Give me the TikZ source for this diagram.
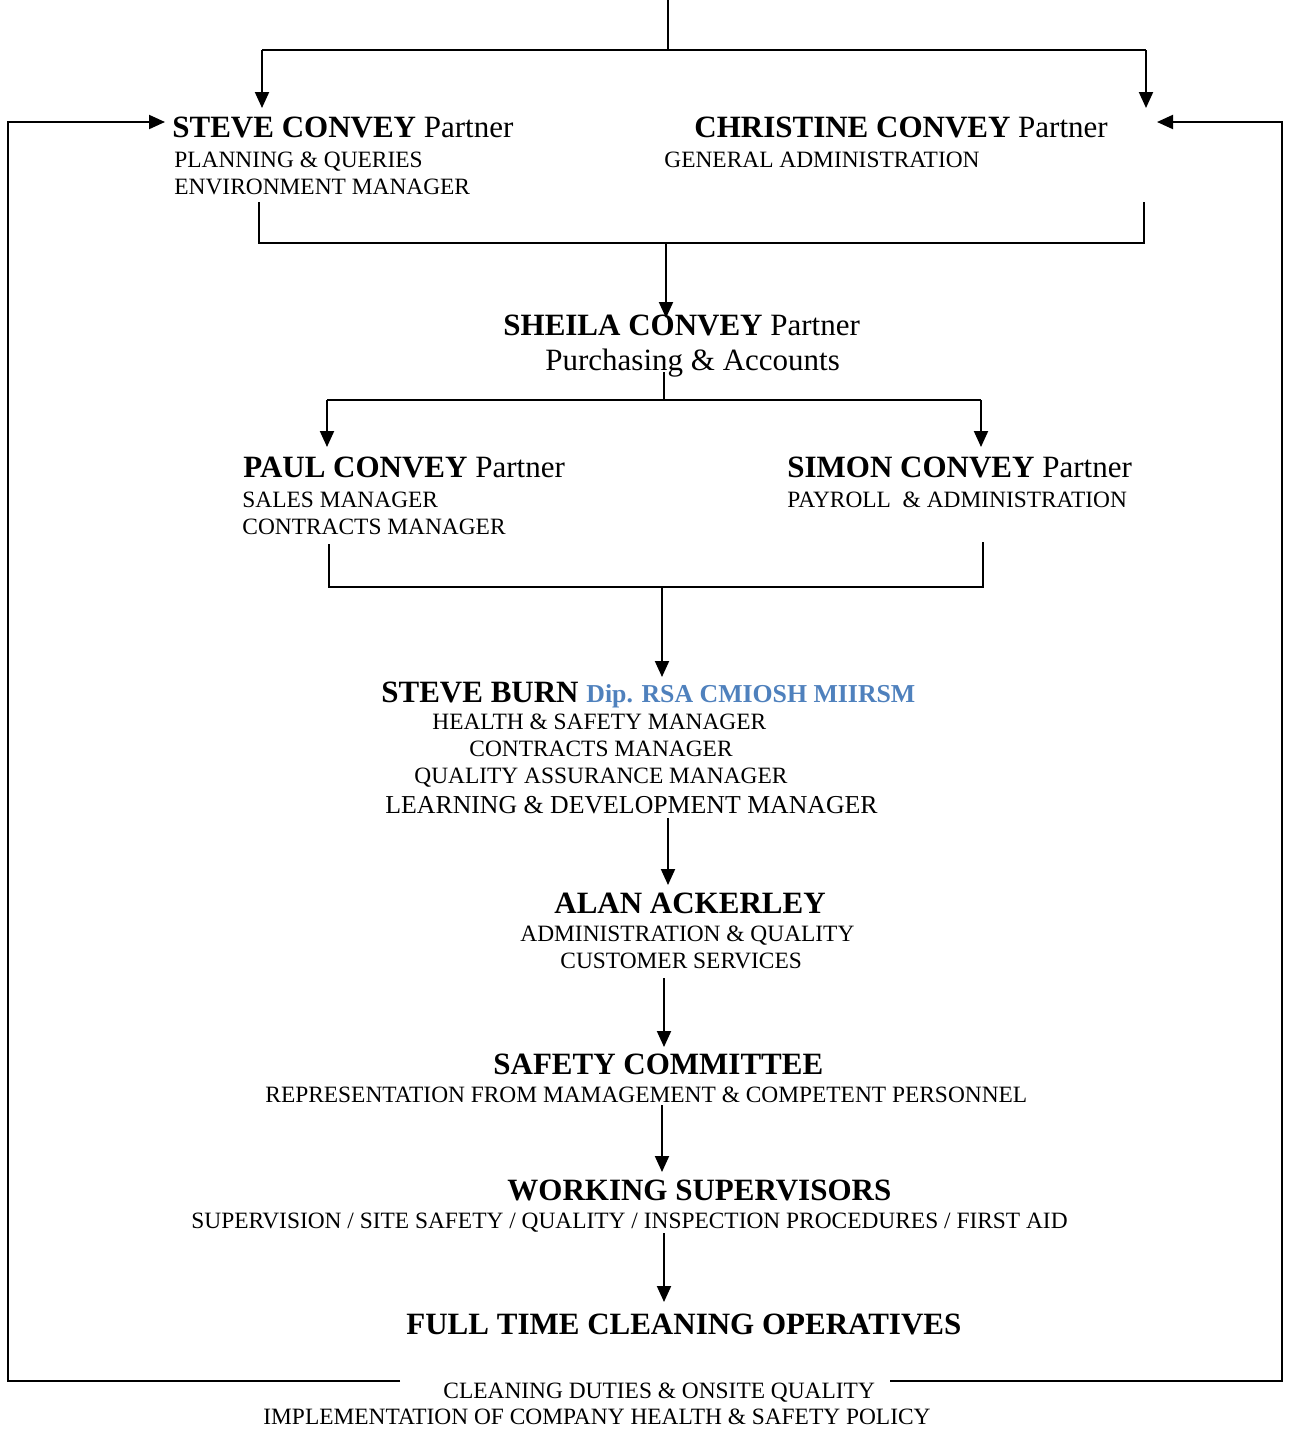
\documentclass[tikz,border=0pt]{standalone}
\usepackage{fontspec}
\setmainfont{Liberation Serif}
\usetikzlibrary{arrows.meta}
\definecolor{dipblue}{RGB}{79,129,189}
\tikzstyle{arrow} = [line width=1pt, -{Triangle[width=7pt,length=8pt]}]
\tikzstyle{link} = [line width=1pt]

\begin{document}
\begin{tikzpicture}[x=0.5pt, y=-0.5pt,
    headtext/.style={inner sep=0, anchor=base west, font=\fontsize{15.5}{18}\selectfont},
    roletext/.style={inner sep=0, anchor=base west, font=\fontsize{11.7}{14}\selectfont},
    bigrole/.style={inner sep=0, anchor=base west, font=\fontsize{12.9}{15}\selectfont},
]
\useasboundingbox (0,0) rectangle (1290,1430);

% Steve and Christine
\node[headtext] (steve) at (172,137) {\textbf{STEVE CONVEY} Partner};
\node[roletext] (steve1) at (174,167) {PLANNING \& QUERIES};
\node[roletext] (steve2) at (174,194) {ENVIRONMENT MANAGER};
\node[headtext] (christine) at (694,137) {\textbf{CHRISTINE CONVEY} Partner};
\node[roletext] (christine1) at (664,167) {GENERAL ADMINISTRATION};

% Sheila
\node[headtext] (sheila) at (503,335) {\textbf{SHEILA CONVEY} Partner};
\node[headtext] (sheila1) at (545,370) {Purchasing \& Accounts};

% Paul and Simon
\node[headtext] (paul) at (243,477) {\textbf{PAUL CONVEY} Partner};
\node[roletext] (paul1) at (242,507) {SALES MANAGER};
\node[roletext] (paul2) at (242,534) {CONTRACTS MANAGER};
\node[headtext] (simon) at (787,477) {\textbf{SIMON CONVEY} Partner};
\node[roletext] (simon1) at (787,507) {PAYROLL\ \ \& ADMINISTRATION};

% Steve Burn
\node[headtext] (burn) at (381,702) {\textbf{STEVE BURN}};
\node[bigrole, text=dipblue] (burndip) at (586,702) {\textbf{Dip. RSA CMIOSH MIIRSM}};
\node[roletext] (burn1) at (432,729) {HEALTH \& SAFETY MANAGER};
\node[roletext] (burn2) at (469,756) {CONTRACTS MANAGER};
\node[roletext] (burn3) at (414,783) {QUALITY ASSURANCE MANAGER};
\node[bigrole] (burn4) at (385,813) {LEARNING \& DEVELOPMENT MANAGER};

% Alan Ackerley
\node[headtext] (alan) at (554,913) {\textbf{ALAN ACKERLEY}};
\node[roletext] (alan1) at (520,941) {ADMINISTRATION \& QUALITY};
\node[roletext] (alan2) at (560,968) {CUSTOMER SERVICES};

% Safety committee
\node[headtext] (committee) at (493,1074) {\textbf{SAFETY COMMITTEE}};
\node[roletext] (committee1) at (265,1102) {REPRESENTATION FROM MAMAGEMENT \& COMPETENT PERSONNEL};

% Supervisors
\node[headtext] (super) at (507,1200) {\textbf{WORKING SUPERVISORS}};
\node[roletext] (super1) at (191,1228) {SUPERVISION / SITE SAFETY / QUALITY / INSPECTION PROCEDURES / FIRST AID};

% Operatives
\node[headtext] (oper) at (406,1334) {\textbf{FULL TIME CLEANING OPERATIVES}};
\node[roletext] (oper1) at (443,1398) {CLEANING DUTIES \& ONSITE QUALITY};
\node[roletext] (oper2) at (263,1424) {IMPLEMENTATION OF COMPANY HEALTH \& SAFETY POLICY};

% Junction points
\coordinate (feed) at (668,0);
\coordinate (feedbar) at (668,50);
\coordinate (toleft) at (262,50);
\coordinate (toright) at (1146,50);
\coordinate (steveend) at (262,108);
\coordinate (christineend) at (1146,108);
\coordinate (brackAl) at (259,202);
\coordinate (brackAr) at (1144,202);
\coordinate (brackAmid) at (666,243);
\coordinate (sheilaend) at (666,318);
\coordinate (sheilaout) at (664,372);
\coordinate (sheilabar) at (664,400);
\coordinate (paulend) at (327,447);
\coordinate (simonend) at (981,447);
\coordinate (brackBl) at (329,544);
\coordinate (brackBr) at (983,542);
\coordinate (brackBmid) at (662,590);
\coordinate (burnend) at (662,677);
\coordinate (loopL) at (400,1381);
\coordinate (loopR) at (890,1381);
\coordinate (loopLend) at (165,122);
\coordinate (loopRend) at (1157,122);

% Top feed
\draw[link] (feed) -- (feedbar);
\draw[link] (toleft) -- (toright);
\draw[arrow] (toleft) -- (steveend);
\draw[arrow] (toright) -- (christineend);

% Partners to Sheila
\draw[link] (brackAl) |- (brackAmid) -| (brackAr);
\draw[arrow] (brackAmid) -- (sheilaend);

% Sheila to Paul and Simon
\draw[link] (sheilaout) -- (sheilabar);
\draw[link] (paulend |- sheilabar) -- (simonend |- sheilabar);
\draw[arrow] (paulend |- sheilabar) -- (paulend);
\draw[arrow] (simonend |- sheilabar) -- (simonend);

% Paul and Simon to Steve Burn
\draw[link] (brackBl) |- (brackBmid |- 0,587) -| (brackBr);
\draw[arrow] (brackBmid |- 0,587) -- (burnend);

% Down the chain
\draw[arrow] (668,818) -- (668,885);
\draw[arrow] (664,978) -- (664,1047);
\draw[arrow] (662,1105) -- (662,1172);
\draw[arrow] (664,1233) -- (664,1302);

% Feedback loops
\draw[arrow] (loopL) -| (8,122) -- (loopLend);
\draw[arrow] (loopR) -| (1282,122) -- (loopRend);

\end{tikzpicture}
\end{document}
